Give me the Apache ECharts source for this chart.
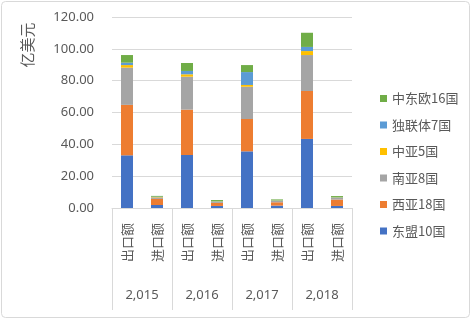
<!DOCTYPE html>
<html>
<head>
<meta charset="utf-8">
<script src="https://cdn.jsdelivr.net/npm/echarts@6/dist/echarts.min.js"></script>
<style>
    html, body { margin: 0; padding: 0; background: #fff; }
    #chart { width: 472px; height: 321px; }
</style>
</head>
<body>
<div id="chart"></div>
<script>
// 类目与数据
var years = ['2,015', '2,016', '2,017', '2,018'];
var flows = ['出口额', '进口额', '出口额', '进口额', '出口额', '进口额', '出口额', '进口额'];
var seriesNames = ['东盟10国', '西亚18国', '南亚8国', '中亚5国', '独联体7国', '中东欧16国'];
var aseanValues = [33.1, 1.9, 33.3, 1.3, 35.6, 1.5, 43.4, 1.3];
var westAsiaValues = [31.7, 3.8, 28.5, 1.9, 20.3, 2.1, 30.1, 4.0];
var southAsiaValues = [23.4, 1.0, 20.7, 0.6, 20.3, 0.8, 22.6, 1.0];
var centralAsiaValues = [1.6, 0.2, 1.5, 0.2, 1.1, 0.2, 2.5, 0.2];
var cisValues = [1.5, 0.2, 2.1, 0.2, 8.1, 0.2, 2.6, 0.2];
var ceeValues = [4.8, 0.5, 5.0, 0.8, 4.4, 0.6, 8.9, 0.8];
var yTicks = [0, 20, 40, 60, 80, 100, 120];

var colors = ['#4472C4', '#ED7D31', '#A5A5A5', '#FFC000', '#5B9BD5', '#70AD47'];
var allValues = [aseanValues, westAsiaValues, southAsiaValues, centralAsiaValues, cisValues, ceeValues];
var textColor = '#595959';
var lineColor = '#d9d9d9';
var numFont = '"Noto Sans", "Noto Sans CJK SC", sans-serif';
var cjkFont = '"Noto Sans CJK SC", sans-serif';

var chart = echarts.init(document.getElementById('chart'));

var series = seriesNames.map(function (name, i) {
    return {
        name: name,
        type: 'bar',
        stack: 'total',
        barWidth: 12,
        xAxisIndex: 0,
        itemStyle: { color: colors[i] },
        data: allValues[i]
    };
});

chart.setOption({
    animation: false,
    grid: { left: 112, right: 120, top: 17, bottom: 113 },
    legend: {
        orient: 'vertical',
        left: 375,
        top: 87,
        itemWidth: 7,
        itemHeight: 7,
        itemGap: 13.5,
        icon: 'rect',
        data: seriesNames.slice().reverse(),
        textStyle: { color: textColor, fontSize: 13, fontFamily: cjkFont }
    },
    xAxis: [
        {
            type: 'category',
            data: flows,
            axisLine: { lineStyle: { color: lineColor } },
            axisTick: { show: false },
            axisLabel: {
                interval: 0,
                rotate: 90,
                margin: 15,
                color: textColor,
                fontSize: 13,
                fontFamily: cjkFont
            }
        },
        {
            type: 'category',
            data: years,
            position: 'bottom',
            axisLine: { show: false },
            axisTick: { show: true, length: 102, lineStyle: { color: lineColor } },
            axisLabel: {
                interval: 0,
                margin: 81,
                color: textColor,
                fontSize: 13,
                fontFamily: numFont
            }
        }
    ],
    yAxis: {
        type: 'value',
        min: yTicks[0],
        max: yTicks[yTicks.length - 1],
        interval: 20,
        axisLine: { show: false },
        axisTick: { show: false },
        splitLine: { lineStyle: { color: lineColor } },
        axisLabel: {
            margin: 18,
            color: textColor,
            fontSize: 13,
            fontFamily: numFont,
            formatter: function (v) { return v.toFixed(2); }
        }
    },
    graphic: [
        {
            type: 'rect',
            shape: { x: 1.5, y: 1.5, width: 468, height: 316, r: 4 },
            style: { fill: 'none', stroke: lineColor, lineWidth: 1 },
            silent: true
        },
        {
            type: 'text',
            x: 27,
            y: 45,
            rotation: Math.PI / 2,
            style: {
                text: '亿美元',
                fill: textColor,
                font: '15px "Noto Sans CJK SC", sans-serif',
                align: 'center',
                verticalAlign: 'middle'
            }
        }
    ],
    series: series
});
</script>
</body>
</html>
